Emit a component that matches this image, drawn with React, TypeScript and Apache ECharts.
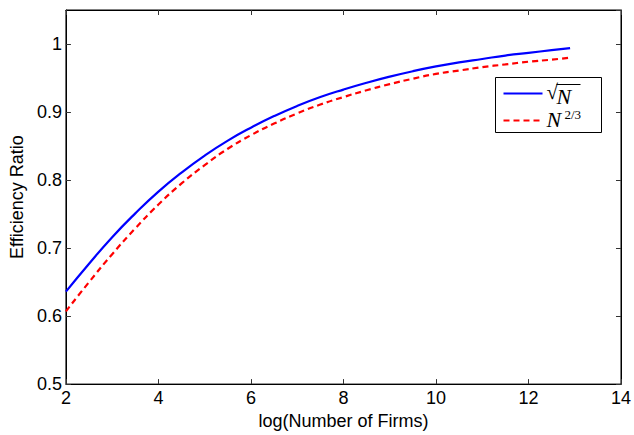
import React, { useEffect, useRef } from "react";
import * as echarts from "echarts";

const xTicks = [2, 4, 6, 8, 10, 12, 14];
const yTicks = [0.5, 0.6, 0.7, 0.8, 0.9, 1];
const logFirms = [2, 2.5, 3, 3.5, 4, 4.5, 5, 5.5, 6, 6.5, 7, 7.5, 8, 8.5, 9, 9.5, 10, 10.5, 11, 11.5, 12, 12.5, 12.9];
const sqrtNValues = [0.636, 0.677, 0.716, 0.751, 0.783, 0.811, 0.836, 0.858, 0.877, 0.894, 0.909, 0.922, 0.933, 0.943, 0.952, 0.96, 0.967, 0.973, 0.978, 0.983, 0.987, 0.991, 0.994];
const n23Values = [0.607, 0.65, 0.691, 0.729, 0.764, 0.795, 0.822, 0.846, 0.866, 0.883, 0.898, 0.911, 0.922, 0.932, 0.941, 0.949, 0.956, 0.961, 0.966, 0.97, 0.974, 0.977, 0.98];

const SANS = "'Liberation Sans', Arial, Helvetica, sans-serif";
const SERIF = "'Liberation Serif', 'DejaVu Serif', serif";

export default function App() {
  const ref = useRef<HTMLDivElement>(null);
  useEffect(() => {
    document.body.style.margin = "0";
    if (!ref.current) return;
    const chart = echarts.init(ref.current, null, { renderer: "svg" });
    const pairs = (ys: number[]) => logFirms.map((x, i) => [x, ys[i]]);
    const baseX = {
      type: "value",
      min: xTicks[0],
      max: xTicks[xTicks.length - 1],
      interval: 2,
      splitLine: { show: false },
      axisLine: { show: true, onZero: false, lineStyle: { color: "#000", width: 1 } },
      axisTick: { show: true, inside: true, length: 5, lineStyle: { color: "#333" } },
    };
    const baseY = {
      type: "value",
      min: yTicks[0],
      max: 1.05,
      interval: 0.1,
      splitLine: { show: false },
      axisLine: { show: true, onZero: false, lineStyle: { color: "#000", width: 1 } },
      axisTick: { show: true, inside: true, length: 5, lineStyle: { color: "#333" } },
    };
    chart.setOption({
      animation: false,
      backgroundColor: "#fff",
      grid: { left: 65, right: 9, top: 10, bottom: 44, show: true, borderColor: "#000", borderWidth: 1, backgroundColor: "transparent" },
      xAxis: [
        {
          ...baseX,
          position: "bottom",
          name: "log(Number of Firms)",
          nameLocation: "middle",
          nameGap: 22,
          nameTextStyle: { color: "#000", fontSize: 18, fontFamily: SANS },
          axisLabel: { color: "#000", fontSize: 18, fontFamily: SANS, margin: 5 },
        },
        { ...baseX, position: "top", axisLabel: { show: false } },
      ],
      yAxis: [
        {
          ...baseY,
          position: "left",
          name: "Efficiency Ratio",
          nameLocation: "middle",
          nameGap: 36,
          nameTextStyle: { color: "#000", fontSize: 18, fontFamily: SANS },
          axisLabel: { color: "#000", fontSize: 18, fontFamily: SANS, margin: 4, showMaxLabel: false },
        },
        { ...baseY, position: "right", axisLabel: { show: false } },
      ],
      series: [
        {
          name: "sqrt(N)",
          type: "line",
          xAxisIndex: 0,
          yAxisIndex: 0,
          data: pairs(sqrtNValues),
          showSymbol: false,
          symbol: "none",
          smooth: true,
          lineStyle: { color: "#0000ff", width: 2.2 },
        },
        {
          name: "N^(2/3)",
          type: "line",
          xAxisIndex: 0,
          yAxisIndex: 0,
          data: pairs(n23Values),
          showSymbol: false,
          symbol: "none",
          smooth: true,
          lineStyle: { color: "#ff0000", width: 2.2, type: [6, 4] },
        },
      ],
      graphic: [
        {
          type: "group",
          left: 495,
          top: 77,
          children: [
            { type: "rect", shape: { x: 0, y: 0, width: 106, height: 55 }, style: { fill: "#fff", stroke: "#000", lineWidth: 1 } },
            { type: "line", shape: { x1: 8, y1: 16, x2: 47, y2: 16 }, style: { stroke: "#0000ff", lineWidth: 2.2 } },
            { type: "line", shape: { x1: 8, y1: 43, x2: 47, y2: 43 }, style: { stroke: "#ff0000", lineWidth: 2.2, lineDash: [6, 4] } },
            { type: "text", x: 51, y: 4, style: { text: "√", fontSize: 21, fontFamily: SERIF, fill: "#000" } },
            { type: "line", shape: { x1: 61, y1: 7, x2: 85, y2: 7 }, style: { stroke: "#000", lineWidth: 1 } },
            { type: "text", x: 61, y: 8, style: { text: "N", fontSize: 22, fontStyle: "italic", fontFamily: SERIF, fill: "#000" } },
            { type: "text", x: 51, y: 31, style: { text: "N", fontSize: 22, fontStyle: "italic", fontFamily: SERIF, fill: "#000" } },
            { type: "text", x: 69, y: 30, style: { text: "2/3", fontSize: 13, fontFamily: SERIF, fill: "#000" } },
          ],
        },
      ],
    });
    return () => chart.dispose();
  }, []);
  return <div ref={ref} style={{ width: 634, height: 435 }} />;
}
